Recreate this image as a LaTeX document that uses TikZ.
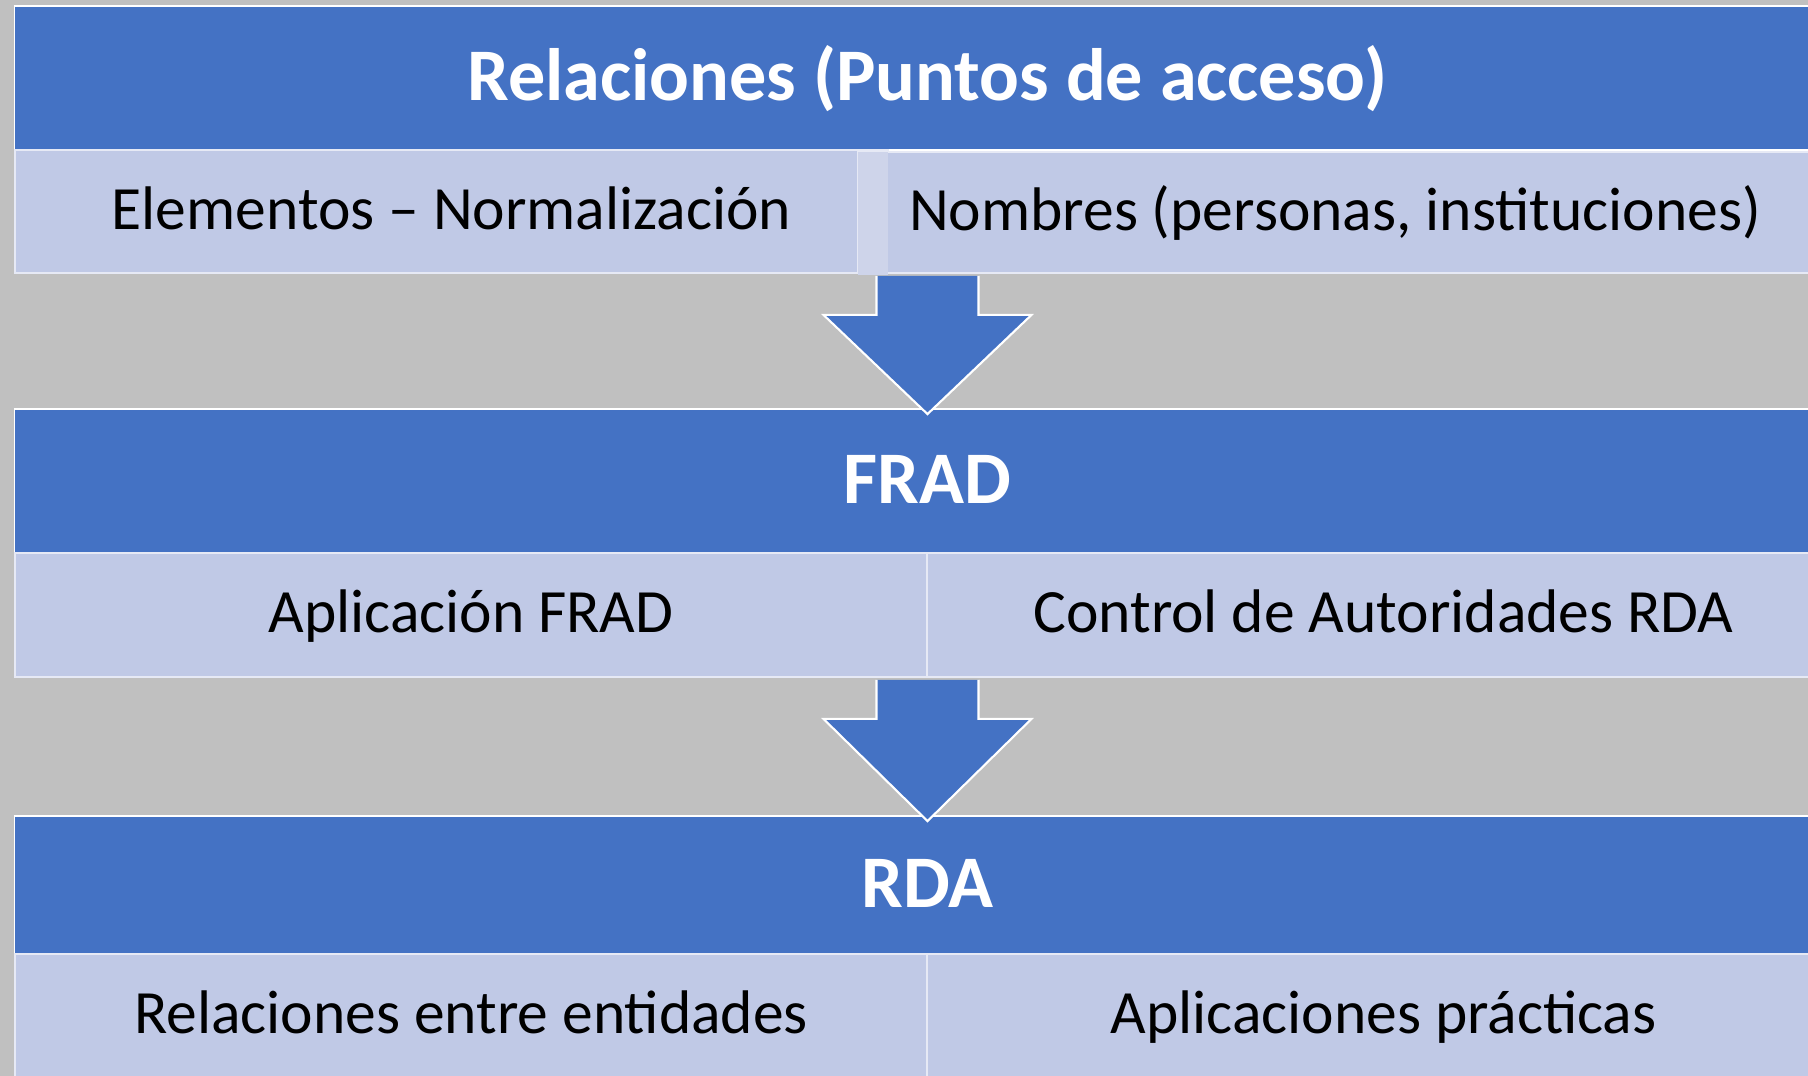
\documentclass[tikz,border=0pt]{standalone}
\usepackage{fontspec}
\setmainfont{Carlito}
\usetikzlibrary{calc}

\definecolor{hdrblue}{RGB}{68,114,196}
\definecolor{cellblue}{RGB}{192,201,230}
\definecolor{striplight}{RGB}{206,212,234}
\definecolor{bggray}{RGB}{192,192,192}

\begin{document}
\begin{tikzpicture}[x=0.01cm, y=-0.01cm,
    hdr/.style={fill=hdrblue, draw=white, line width=0.5pt, text=white,
        font=\fontsize{21.1}{25}\selectfont\bfseries, inner sep=0pt, minimum height=1.44cm,
        text height=15pt, text depth=2pt},
    cell/.style={fill=cellblue, draw=white!60!cellblue, line width=0.5pt, text=black,
        font=\fontsize{17.5}{21}\selectfont, inner sep=0pt, minimum height=1.23cm,
        text height=12pt, text depth=2pt},
    blockarrow/.style={fill=hdrblue, draw=white, line width=0.6pt, line join=miter}]
    \useasboundingbox (0,0) rectangle (1808,1076);
    \clip (0,0) rectangle (1808,1076);
    \fill[bggray] (0,0) rectangle (1808,1076);

    % first block
    \node[hdr, minimum width=18.25cm] (h1) at (927.5,78) {Relaciones (Puntos de acceso)};
    \node[cell, minimum width=8.73cm] (c1l) at (451.5,211.5) {Elementos -- Normalización};
    \node[cell, minimum width=9.54cm, minimum height=1.21cm] (c1r) at (1335,212.5) {Nombres (personas, instituciones)};
    \fill[striplight] (858,152) rectangle (888,275);

    % second block
    \node[hdr, minimum width=18.25cm] (h2) at (927.5,481) {FRAD};
    \node[cell, minimum width=9.12cm, minimum height=1.24cm] (c2l) at (471,615) {Aplicación FRAD};
    \node[cell, minimum width=9.13cm, minimum height=1.24cm] (c2r) at (1383.5,615) {Control de Autoridades RDA};

    % third block
    \node[hdr, minimum width=18.25cm, minimum height=1.38cm] (h3) at (927.5,885) {RDA};
    \node[cell, minimum width=9.12cm, minimum height=1.24cm] (c3l) at (471,1016) {Relaciones entre entidades};
    \node[cell, minimum width=9.13cm, minimum height=1.24cm] (c3r) at (1383.5,1016) {Aplicaciones prácticas};

    % arrows between blocks
    \foreach \src/\dst in {c1l/h2, c2l/h3} {
        \coordinate (top) at (\dst.north |- \src.south);
        \filldraw[blockarrow] ($(top)+(-51,2)$) -- ($(top)+(-51,41)$) -- ($(top)+(-104,41)$)
            -- ($(\dst.north)+(0,6)$) -- ($(top)+(104,41)$) -- ($(top)+(51,41)$) -- ($(top)+(51,2)$);
    }
\end{tikzpicture}
\end{document}
